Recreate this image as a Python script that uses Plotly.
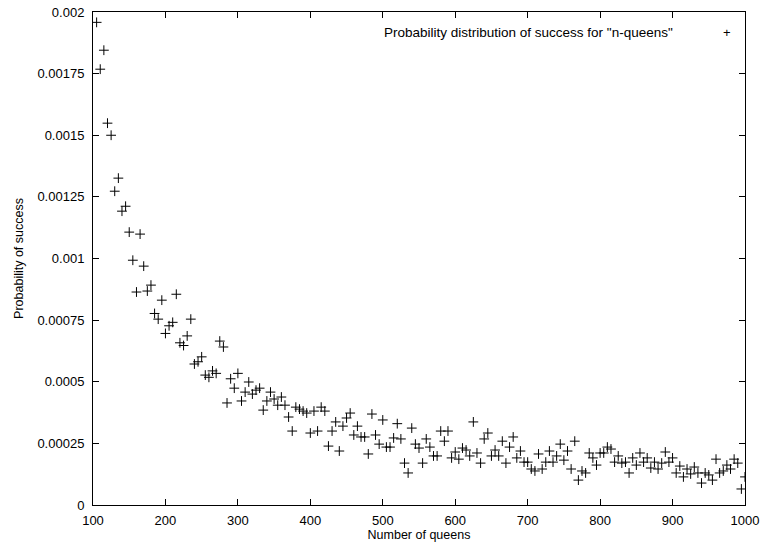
import plotly.graph_objects as go

# Number of queens (x) and probability of success (y)
queens = list(range(105, 1001, 5))
prob = [
    0.001958, 0.001768, 0.001845, 0.001549, 0.0015, 0.001273, 0.001326, 0.001192, 0.001212, 0.001107,
    0.000993, 0.000864, 0.001099, 0.000969, 0.000868, 0.000892, 0.000777, 0.000754, 0.000831, 0.000696,
    0.000727, 0.000741, 0.000855, 0.000658, 0.000647, 0.000686, 0.000754, 0.000572, 0.000581, 0.000601,
    0.000527, 0.000518, 0.000544, 0.000534, 0.000665, 0.000641, 0.000414, 0.000512, 0.000474, 0.000534,
    0.000422, 0.000458, 0.000499, 0.00045, 0.000466, 0.000474, 0.000385, 0.000422, 0.000458, 0.00043,
    0.000405, 0.000438, 0.000405, 0.000357, 0.0003, 0.000397, 0.000389, 0.000381, 0.000373, 0.000292,
    0.000381, 0.0003, 0.000397, 0.000381, 0.000239, 0.0003, 0.000337, 0.000219, 0.00032, 0.000353,
    0.000373, 0.000284, 0.00032, 0.000276, 0.000276, 0.000207, 0.000369, 0.000284, 0.000247, 0.000345,
    0.000235, 0.000235, 0.000272, 0.00033, 0.000268, 0.00017, 0.00013, 0.000312, 0.000247, 0.000231,
    0.00017, 0.000268, 0.000235, 0.000199, 0.000199, 0.0003, 0.000259, 0.0003, 0.000191, 0.000215,
    0.000186, 0.000231, 0.000223, 0.000199, 0.000337, 0.000211, 0.00017, 0.000268, 0.000292, 0.000199,
    0.000223, 0.000199, 0.000259, 0.00017, 0.000235, 0.000276, 0.000191, 0.000219, 0.000174, 0.000174,
    0.000146, 0.000138, 0.000207, 0.000146, 0.000174, 0.000219, 0.000174, 0.000199, 0.000247, 0.000182,
    0.000219, 0.000146, 0.000259, 0.000101, 0.000138, 0.00013, 0.000211, 0.000191, 0.000162, 0.000211,
    0.000211, 0.000235, 0.000227, 0.000174, 0.000199, 0.00017, 0.000174, 0.00013, 0.000191, 0.000162,
    0.000211, 0.000174, 0.000191, 0.00015, 0.000174, 0.000146, 0.00017, 0.000215, 0.000174, 0.000191,
    0.00013, 0.000158, 0.000114, 0.000146, 0.000126, 0.000154, 0.00013, 0.000089, 0.00013, 0.000122,
    0.000101, 0.000186, 0.00013, 0.000138, 0.000162, 0.000146, 0.000186, 0.00017, 0.000065, 0.000114,
]

x_ticks = list(range(100, 1001, 100))
y_ticks = [0, 0.00025, 0.0005, 0.00075, 0.001, 0.00125, 0.0015, 0.00175, 0.002]
y_tick_labels = ["0", "0.00025", "0.0005", "0.00075", "0.001", "0.00125", "0.0015", "0.00175", "0.002"]

legend_text = 'Probability distribution of success for "n-queens"'

FONT = "Liberation Sans, Arial, sans-serif"

fig = go.Figure()
fig.add_trace(go.Scatter(
    x=queens, y=prob, mode="markers",
    marker=dict(symbol="cross-thin", size=7, color="black",
                line=dict(color="black", width=1)),
    showlegend=False,
))

fig.add_annotation(xref="paper", yref="paper", x=0.892, y=0.958,
                   xanchor="right", yanchor="middle", showarrow=False,
                   text=legend_text, font=dict(family=FONT, size=13.5, color="black"))
fig.add_annotation(xref="paper", yref="paper", x=0.972, y=0.958,
                   xanchor="center", yanchor="middle", showarrow=False,
                   text="+", font=dict(family=FONT, size=13, color="black"))

axis_common = dict(
    showline=True, linecolor="black", linewidth=1, mirror="ticks",
    ticks="inside", ticklen=6, tickcolor="black", tickwidth=1,
    showgrid=False, zeroline=False, automargin=False,
    tickfont=dict(family=FONT, size=13, color="black"),
)

fig.update_xaxes(
    range=[100, 1000], tickvals=x_ticks,
    title=dict(text="Number of queens", font=dict(family=FONT, size=12.5, color="black"), standoff=0),
    ticklabelstandoff=3,
    **axis_common,
)
fig.update_yaxes(
    range=[0, 0.002], tickvals=y_ticks, ticktext=y_tick_labels,
    title=dict(text="Probability of success", font=dict(family=FONT, size=12.5, color="black"), standoff=11),
    ticklabelstandoff=5,
    **axis_common,
)

fig.update_layout(
    width=762, height=545,
    margin=dict(l=93, r=17, t=12, b=40),
    paper_bgcolor="white", plot_bgcolor="white",
    font=dict(family=FONT, size=12, color="black"),
)

fig.write_html("out.html")
